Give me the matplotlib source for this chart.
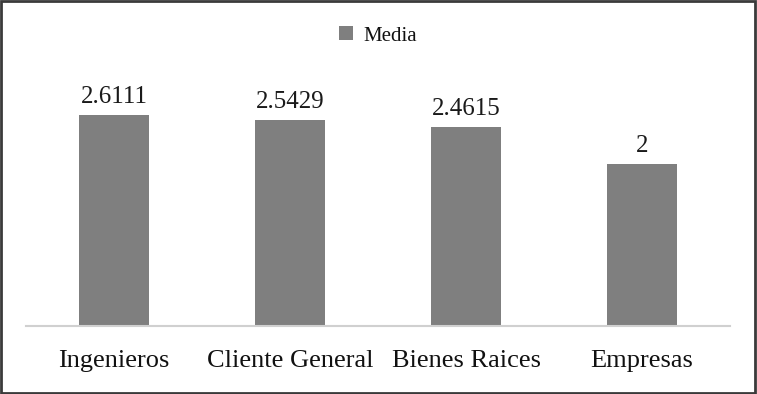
import matplotlib
matplotlib.use("Agg")
import matplotlib.pyplot as plt
from matplotlib.patches import Rectangle

categories = ["Ingenieros", "Cliente General", "Bienes Raices", "Empresas"]
media = [2.6111, 2.5429, 2.4615, 2]
labels = ["2.6111", "2.5429", "2.4615", "2"]

plt.rcParams['font.family'] = ['Liberation Serif', 'DejaVu Serif']

W, H = 757, 394
fig = plt.figure(figsize=(W/100, H/100), dpi=100)
ax = fig.add_axes([26/W, (H-326)/H, (730-26)/W, (326-83)/H])

x = range(len(categories))
bars = ax.bar(x, media, width=0.4, color="#7f7f7f", label="Media", zorder=2)
for b, t in zip(bars, labels):
    ax.annotate(t, (b.get_x() + b.get_width()/2, b.get_height()),
                xytext=(0, 5), textcoords="offset points",
                ha="center", va="bottom", fontsize=18, color="#1a1a1a")

ax.set_xlim(-0.5, len(categories) - 0.5)
ax.set_ylim(0, 3)
ax.set_xticks(list(x))
ax.set_xticklabels(categories, fontsize=19, color="#111111")
ax.tick_params(axis='x', length=0, pad=17)
ax.set_yticks([])
for s in ["top", "left", "right"]:
    ax.spines[s].set_visible(False)
ax.spines["bottom"].set_color("#d0d0d0")
ax.spines["bottom"].set_linewidth(1.5)

leg = fig.legend(loc="center", bbox_to_anchor=(378/W, 1 - 36/H), frameon=False,
                 fontsize=15, handlelength=0.65, handleheight=0.65, handletextpad=0.5)
for t in leg.get_texts():
    t.set_color("#111111")

fig.patches.append(Rectangle((0.001, 0.002), 0.997, 0.995, transform=fig.transFigure,
                             fill=False, edgecolor="#3a3a3a", linewidth=2))

fig.savefig("out.png", dpi=100)
